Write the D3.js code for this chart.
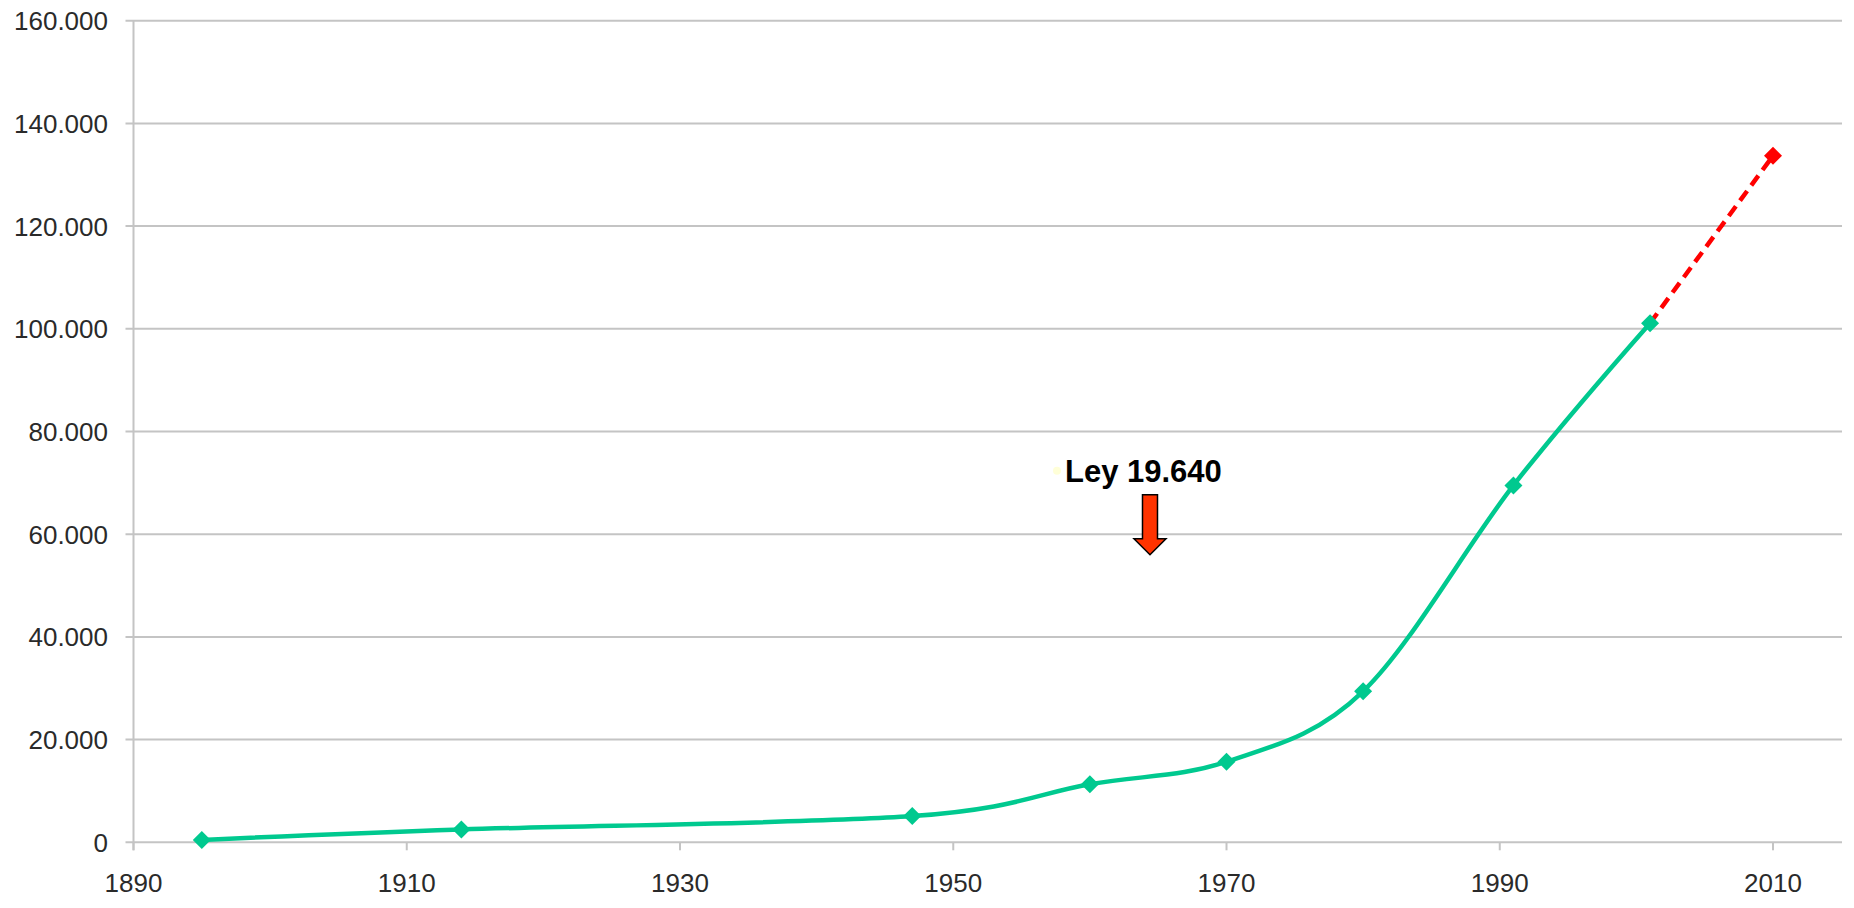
<!DOCTYPE html>
<html><head><meta charset="utf-8">
<script src="https://cdn.jsdelivr.net/npm/d3@7"></script>
<style>
html,body{margin:0;padding:0;background:#fff;}
svg{display:block;font-family:"Liberation Sans",Arial,sans-serif;}
</style></head>
<body>
<svg id="chart" width="1854" height="908"></svg>
<script>
const years = [1895, 1914, 1947, 1960, 1970, 1980, 1991, 2001];
const population = [450, 2500, 5100, 11300, 15700, 29400, 69500, 101100];
const projectionYears = [2001, 2010];
const projectionValues = [101100, 133700];
const yTicks = [0, 20000, 40000, 60000, 80000, 100000, 120000, 140000, 160000];
const xTicks = [1890, 1910, 1930, 1950, 1970, 1990, 2010];
const annotationText = "Ley 19.640";
const annotationYear = [1964.4];
const annotationValue = [56000];

(function () {
const svg = d3.select("#chart");
const mLeft = 133.5, mRight = 1842, mTop = 20.7, mBottom = 842.3;
const x = d3.scaleLinear().domain([1890, 2015.05]).range([mLeft, mRight]);
const y = d3.scaleLinear().domain([0, 160000]).range([mBottom, mTop]);
const loc = d3.formatLocale({decimal: ",", thousands: ".", grouping: [3], currency: ["", ""]});
const fmt = loc.format(",d");
const grid = "#c4c4c4";

// gridlines
svg.append("g").selectAll("line").data(yTicks).join("line")
  .attr("x1", mLeft - 8).attr("x2", mRight)
  .attr("y1", d => y(d)).attr("y2", d => y(d))
  .attr("stroke", grid).attr("stroke-width", 2);

// y axis line
svg.append("line").attr("x1", mLeft).attr("x2", mLeft).attr("y1", y(160000)).attr("y2", mBottom + 8)
  .attr("stroke", grid).attr("stroke-width", 2);

// x ticks
svg.append("g").selectAll("line").data(xTicks).join("line")
  .attr("x1", d => x(d)).attr("x2", d => x(d))
  .attr("y1", mBottom).attr("y2", mBottom + 8)
  .attr("stroke", grid).attr("stroke-width", 2);

// y labels
svg.append("g").selectAll("text").data(yTicks).join("text")
  .attr("x", 108).attr("y", d => y(d) + 9.5)
  .attr("text-anchor", "end").attr("font-size", 26).attr("fill", "#2a2a2a")
  .text(d => fmt(d));

// x labels
svg.append("g").selectAll("text").data(xTicks).join("text")
  .attr("x", d => x(d)).attr("y", 891.5)
  .attr("text-anchor", "middle").attr("font-size", 26).attr("fill", "#2a2a2a")
  .text(d => d);

const green = "#00c98f";
const pts = years.map((yr, i) => [yr, population[i]]);
const line = d3.line().x(d => x(d[0])).y(d => y(d[1])).curve(d3.curveCardinal.tension(0));
svg.append("path").attr("d", line(pts)).attr("fill", "none")
  .attr("stroke", green).attr("stroke-width", 4.5).attr("stroke-linejoin", "round");

// projection
const proj = projectionYears.map((yr, i) => [yr, projectionValues[i]]);
svg.append("path").attr("d", d3.line().x(d => x(d[0])).y(d => y(d[1]))(proj))
  .attr("fill", "none").attr("stroke", "#ff0000").attr("stroke-width", 4.5)
  .attr("stroke-dasharray", "12,7");

const diamond = (cx, cy, r) => `M${cx},${cy - r}L${cx + r},${cy}L${cx},${cy + r}L${cx - r},${cy}Z`;
svg.append("g").selectAll("path").data(pts).join("path")
  .attr("d", d => diamond(x(d[0]), y(d[1]), 9)).attr("fill", green);
svg.append("path").attr("d", diamond(x(proj[1][0]), y(proj[1][1]), 9)).attr("fill", "#ff0000");

// annotation
const ax = x(annotationYear[0]), ay = y(annotationValue[0]);
svg.append("circle").attr("cx", ax - 93).attr("cy", ay - 84).attr("r", 4).attr("fill", "#ffffd8");
svg.append("text").attr("x", ax - 85).attr("y", ay - 72.5)
  .attr("font-size", 31).attr("font-weight", "bold").attr("fill", "#000")
  .text(annotationText);
const arrow = [[ax - 7.5, ay - 60], [ax + 7.5, ay - 60], [ax + 7.5, ay - 16], [ax + 16, ay - 16],
               [ax, ay], [ax - 16, ay - 16], [ax - 7.5, ay - 16]];
svg.append("path").attr("d", "M" + arrow.map(p => p.join(",")).join("L") + "Z")
  .attr("fill", "#ff3300").attr("stroke", "#000").attr("stroke-width", 1.5);
})();
</script>
</body></html>
